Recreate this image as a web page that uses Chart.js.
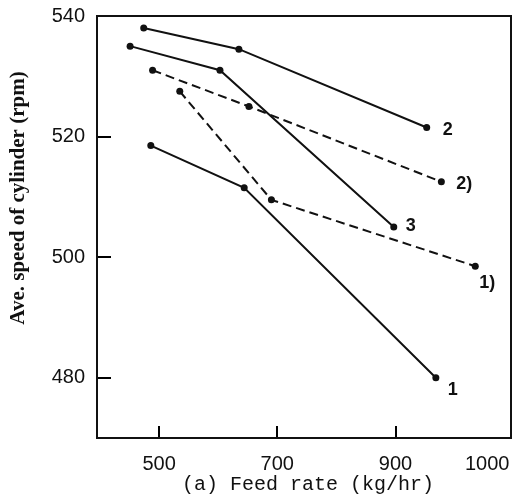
<!DOCTYPE html>
<html>
<head>
<meta charset="utf-8">
<script src="https://cdn.jsdelivr.net/npm/chart.js@4"></script>
<style>
  html, body { margin: 0; padding: 0; background: #fff; }
  #wrap { width: 515px; height: 498px; }
</style>
</head>
<body>
<div id="wrap"><canvas id="feedChart"></canvas></div>
<script>
// values (feed rate kg/hr, cylinder speed rpm)
var names = ['1', '2', '3', '1)', '2)'];
var feed1 = [486, 644, 944],  speed1 = [518.5, 511.5, 480];
var feed2 = [474, 635, 934],  speed2 = [538, 534.5, 521.5];
var feed3 = [451, 603, 897],  speed3 = [535, 531, 505];
var feed1b = [535, 690, 987], speed1b = [527.5, 509.5, 498.5];
var feed2b = [489, 652, 950], speed2b = [531, 525, 512.5];
var xTicks = [500, 700, 900, 1000];
var yTicks = [480, 500, 520, 540];
var xMarks = [500, 700, 900];
var yMarks = [480, 500, 520];

// the original x axis is stretched past 900
var knot = 900, stretch = 1.55;
function warp(v) { return v <= knot ? v : knot + (v - knot) * stretch; }
function unwarp(v) { return v <= knot ? v : knot + (v - knot) / stretch; }

class WarpScale extends Chart.LinearScale {
  configure() {
    super.configure();
    this._startValue = warp(this.min);
    this._endValue = warp(this.max);
    this._valueRange = this._endValue - this._startValue;
  }
  getPixelForValue(v) { return super.getPixelForValue(warp(v)); }
  getValueForPixel(p) { return unwarp(super.getValueForPixel(p)); }
}
WarpScale.id = 'warp';
WarpScale.defaults = Chart.LinearScale.defaults;
Chart.register(WarpScale);

function pts(xs, ys) {
  return xs.map(function(x, i) { return { x: x, y: ys[i] }; });
}
var series = [pts(feed1, speed1), pts(feed2, speed2), pts(feed3, speed3), pts(feed1b, speed1b), pts(feed2b, speed2b)];

var ink = '#111';
// where each end label sits relative to the last point
var labelOffset = [[17, 12], [21, 3], [17, -1], [12, 17], [23, 2]];

// short inward tick marks on the two axes
function drawMarks(chart) {
  var c = chart.ctx, a = chart.chartArea;
  var xs = chart.scales.x, ys = chart.scales.y;
  c.save();
  c.setLineDash([]);
  c.globalAlpha = 1;
  c.globalCompositeOperation = 'source-over';
  c.fillStyle = '#000';
  xMarks.forEach(function(v) {
    var px = Math.round(xs.getPixelForValue(v));
    c.fillRect(px - 1, Math.round(a.bottom) - 12, 2, 12);
  });
  yMarks.forEach(function(v) {
    var py = Math.round(ys.getPixelForValue(v));
    c.fillRect(Math.round(a.left), py - 1, 14, 2);
  });
  c.restore();
}

var marksPlugin = {
  id: 'axisMarks',
  afterDatasetsDraw: function(chart) { drawMarks(chart); },
  afterDraw: function(chart) { drawMarks(chart); }
};

var framePlugin = {
  id: 'frame',
  afterDraw: function(chart) {
    var c = chart.ctx, a = chart.chartArea;
    var k;
    c.save();
    c.strokeStyle = ink;
    c.lineWidth = 2;
    c.strokeRect(a.left, a.top, a.right - a.left, a.bottom - a.top);
    // series end labels
    c.fillStyle = ink;
    c.font = 'bold 18px "Liberation Sans", Arial, sans-serif';
    c.textAlign = 'center';
    c.textBaseline = 'middle';
    for (k = 0; k < chart.data.datasets.length; k++) {
      var meta = chart.getDatasetMeta(k);
      var last = meta.data[meta.data.length - 1];
      c.fillText(chart.data.datasets[k].label, last.x + labelOffset[k][0], last.y + labelOffset[k][1]);
    }
    // axis titles
    c.font = '20px "Liberation Mono", "DejaVu Sans Mono", monospace';
    c.fillText('(a) Feed rate (kg/hr)', 308, 485);
    c.translate(19, 198);
    c.rotate(-Math.PI / 2);
    c.font = 'bold 21px "Liberation Serif", "DejaVu Serif", serif';
    c.fillText('Ave. speed of cylinder (rpm)', 0, 0);
    c.restore();
  }
};

var ctx = document.getElementById('feedChart').getContext('2d');
var feedChart = new Chart(ctx, {
  type: 'line',
  data: {
    datasets: series.map(function(d, i) {
      var dashed = names[i].indexOf(')') >= 0;
      return {
        label: names[i],
        data: d,
        borderColor: ink,
        backgroundColor: ink,
        borderWidth: 2,
        borderDash: dashed ? [9, 5] : [],
        pointRadius: 3.5,
        pointBorderWidth: 0,
        pointBackgroundColor: ink,
        tension: 0,
        fill: false
      };
    })
  },
  options: {
    responsive: true,
    maintainAspectRatio: false,
    animation: false,
    layout: { padding: { top: 14, right: 3, left: 0, bottom: 0 } },
    plugins: { legend: { display: false }, tooltip: { enabled: false } },
    scales: {
      x: {
        type: 'warp',
        min: 395,
        max: 1026,
        grid: { display: false },
        border: { display: false },
        afterBuildTicks: function(s) { s.ticks = xTicks.map(function(v) { return { value: v }; }); },
        afterFit: function(s) { s.height = 60; s.paddingLeft = 0; s.paddingRight = 0; },
        ticks: {
          color: ink,
          padding: 6,
          maxRotation: 0,
          autoSkip: false,
          callback: function(v) { return String(v); },
          font: { family: '"Liberation Sans", Arial, sans-serif', size: 20 }
        }
      },
      y: {
        min: 470,
        max: 540,
        grid: { display: false },
        border: { display: false },
        afterBuildTicks: function(s) { s.ticks = yTicks.map(function(v) { return { value: v }; }); },
        afterFit: function(s) { s.width = 97; },
        ticks: {
          color: ink,
          padding: 4,
          callback: function(v) { return String(v); },
          font: { family: '"Liberation Sans", Arial, sans-serif', size: 20 }
        }
      }
    }
  },
  plugins: [marksPlugin, framePlugin]
});
</script>
</body>
</html>
